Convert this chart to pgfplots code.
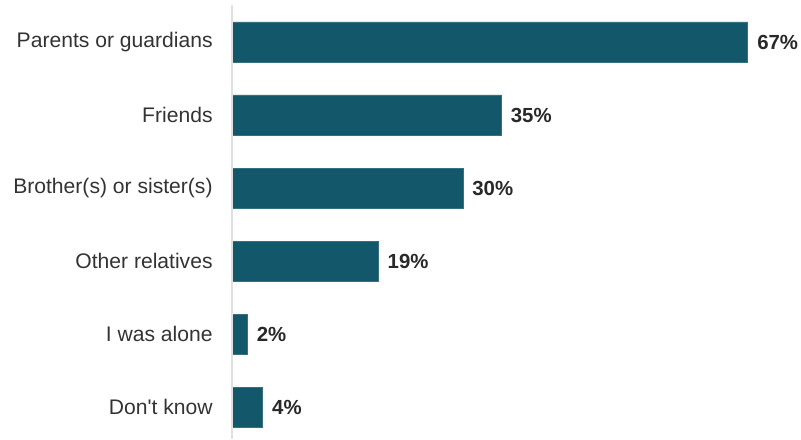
\documentclass[border=0pt]{standalone}
\usepackage{pgfplots}
\pgfplotsset{compat=1.18}
\usepackage{fontspec}
\setmainfont{Liberation Sans}[Ligatures=TeXOff]
\definecolor{barc}{HTML}{13586A}
\definecolor{txt}{HTML}{333333}
\begin{document}
\begin{tikzpicture}[x=1pt,y=1pt]
\useasboundingbox (0,0) rectangle (400.5,219.5);
\begin{axis}[
  at={(116pt,0pt)}, anchor=south west,
  scale only axis,
  width=284.5pt, height=219.5pt,
  xmin=0, xmax=73.9,
  ymin=-0.575, ymax=5.438,
  y dir=reverse,
  axis line style={draw=none},
  major tick length=0pt,
  xtick=\empty,
  xbar, bar width=20pt,
  ytick={0,1,2,3,4,5},
  yticklabels={Parents or guardians,Friends,Brother(s) or sister(s),Other relatives,I was alone,Don't know},
  yticklabel style={font=\fontsize{10.55}{12}\selectfont, text=txt, inner sep=0pt, xshift=-9.5pt, anchor=east},
  /pgf/number format/assume math mode=true,
  nodes near coords={\pgfmathprintnumber[assume math mode=true]{\pgfplotspointmeta}\%},
  nodes near coords style={font=\bfseries\fontsize{10.2}{12}\selectfont, text=txt!80!black, anchor=west, inner sep=0pt, xshift=4.5pt},
  point meta=x,
  clip=false,
]
\addplot[fill=barc, draw=barc!85!white, line width=0.4pt] coordinates {(67,0) (35,1) (30,2) (19,3) (2,4) (4,5)};
\draw[black!12, line width=0.6pt] (axis cs:0,-0.51) -- (axis cs:0,5.438);
\end{axis}
\end{tikzpicture}
\end{document}
